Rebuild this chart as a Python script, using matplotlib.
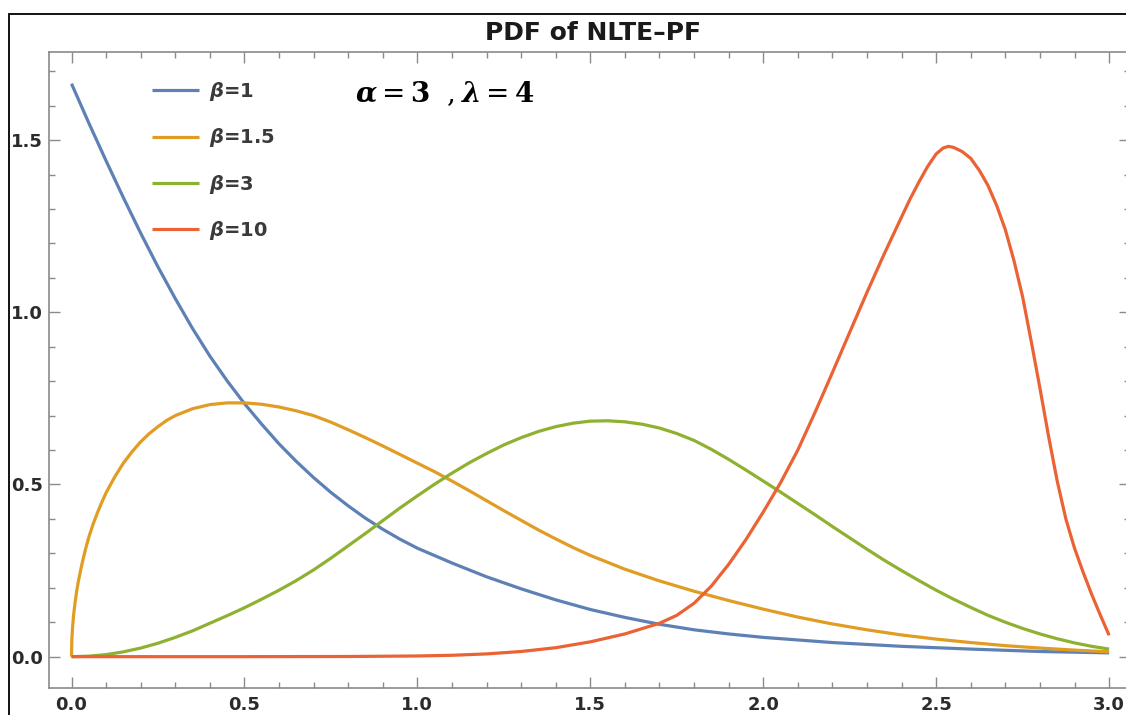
import matplotlib
matplotlib.use("Agg")
import matplotlib.pyplot as plt
from matplotlib.patches import Rectangle
from matplotlib.ticker import MultipleLocator, FormatStrFormatter

# ---- data: PDF of NLTE-PF, alpha = 3, lambda = 4 ----
x_b1 = [0, 0.05, 0.1, 0.15, 0.2, 0.25, 0.3, 0.35, 0.4, 0.45, 0.5, 0.55, 0.6,
        0.65, 0.7, 0.75, 0.8, 0.85, 0.9, 0.95, 1.0, 1.1, 1.2, 1.3, 1.4, 1.5,
        1.6, 1.7, 1.8, 1.9, 2.0, 2.2, 2.4, 2.6, 2.8, 3.0]
y_b1 = [1.664, 1.55, 1.44, 1.333, 1.23, 1.132, 1.04, 0.953, 0.873, 0.801,
        0.735, 0.675, 0.618, 0.567, 0.52, 0.477, 0.438, 0.402, 0.37, 0.341,
        0.315, 0.272, 0.232, 0.197, 0.165, 0.137, 0.114, 0.094, 0.078, 0.066,
        0.056, 0.041, 0.03, 0.022, 0.015, 0.011]

x_b15 = [0, 0.001, 0.003, 0.006, 0.01, 0.015, 0.02, 0.03, 0.04, 0.05, 0.0625,
         0.075, 0.0875, 0.1, 0.125, 0.15, 0.175, 0.2, 0.225, 0.25, 0.275, 0.3,
         0.35, 0.4, 0.45, 0.5, 0.55, 0.6, 0.65, 0.7, 0.75, 0.8, 0.85, 0.9,
         0.95, 1.0, 1.05, 1.1, 1.15, 1.2, 1.25, 1.3, 1.35, 1.4, 1.45, 1.5,
         1.6, 1.7, 1.8, 1.9, 2.0, 2.1, 2.2, 2.3, 2.4, 2.5, 2.6, 2.7, 2.8,
         2.9, 3.0]
y_b15 = [0, 0.05, 0.085, 0.12, 0.155, 0.19, 0.22, 0.268, 0.31, 0.347, 0.385,
         0.418, 0.448, 0.476, 0.522, 0.562, 0.595, 0.624, 0.648, 0.668, 0.686,
         0.70, 0.72, 0.732, 0.737, 0.737, 0.733, 0.725, 0.714, 0.70, 0.681,
         0.659, 0.636, 0.612, 0.587, 0.562, 0.537, 0.51, 0.482, 0.453, 0.424,
         0.396, 0.368, 0.342, 0.317, 0.294, 0.254, 0.22, 0.19, 0.163, 0.138,
         0.115, 0.095, 0.078, 0.063, 0.051, 0.041, 0.032, 0.025, 0.019, 0.014]

x_b3 = [0, 0.05, 0.1, 0.15, 0.2, 0.25, 0.3, 0.35, 0.4, 0.45, 0.5, 0.55, 0.6,
        0.65, 0.7, 0.75, 0.8, 0.85, 0.9, 0.95, 1.0, 1.05, 1.1, 1.15, 1.2,
        1.25, 1.3, 1.35, 1.4, 1.45, 1.5, 1.55, 1.6, 1.65, 1.7, 1.75, 1.8,
        1.85, 1.9, 1.95, 2.0, 2.05, 2.1, 2.15, 2.2, 2.25, 2.3, 2.35, 2.4,
        2.45, 2.5, 2.55, 2.6, 2.65, 2.7, 2.75, 2.8, 2.85, 2.9, 2.95, 3.0]
y_b3 = [0, 0.0015, 0.006, 0.014, 0.025, 0.039, 0.056, 0.075, 0.097, 0.119,
        0.142, 0.167, 0.193, 0.221, 0.252, 0.286, 0.322, 0.358, 0.395, 0.432,
        0.467, 0.501, 0.533, 0.563, 0.59, 0.615, 0.636, 0.654, 0.668, 0.678,
        0.684, 0.685, 0.682, 0.675, 0.664, 0.648, 0.628, 0.602, 0.573, 0.542,
        0.51, 0.478, 0.445, 0.412, 0.378, 0.345, 0.312, 0.28, 0.25, 0.221,
        0.193, 0.167, 0.143, 0.12, 0.1, 0.082, 0.066, 0.052, 0.04, 0.03, 0.022]

x_b10 = [0, 0.5, 0.8, 1.0, 1.1, 1.2, 1.3, 1.4, 1.5, 1.6, 1.7, 1.75, 1.8, 1.85,
         1.9, 1.95, 2.0, 2.05, 2.1, 2.15, 2.2, 2.25, 2.3, 2.35, 2.4, 2.425,
         2.45, 2.475, 2.5, 2.52, 2.535, 2.55, 2.575, 2.6, 2.625, 2.65, 2.675,
         2.7, 2.725, 2.75, 2.775, 2.8, 2.825, 2.85, 2.875, 2.9, 2.925, 2.95,
         2.975, 3.0]
y_b10 = [0, 0, 0.0005, 0.002, 0.004, 0.008, 0.015, 0.026, 0.043, 0.066, 0.097,
         0.12, 0.155, 0.205, 0.268, 0.34, 0.42, 0.505, 0.6, 0.71, 0.825, 0.942,
         1.058, 1.17, 1.277, 1.33, 1.378, 1.423, 1.46, 1.477, 1.482, 1.479,
         1.467, 1.447, 1.412, 1.368, 1.31, 1.24, 1.15, 1.045, 0.915, 0.78,
         0.64, 0.51, 0.40, 0.315, 0.245, 0.18, 0.12, 0.062]

series = [
    (x_b1, y_b1, r"$\mathbfit{\beta}$=1", "#5E81B5"),
    (x_b15, y_b15, r"$\mathbfit{\beta}$=1.5", "#E19C24"),
    (x_b3, y_b3, r"$\mathbfit{\beta}$=3", "#8FB131"),
    (x_b10, y_b10, r"$\mathbfit{\beta}$=10", "#EB6235"),
]

W, H = 1126, 715
fig = plt.figure(figsize=(W / 100, H / 100), dpi=100)
fig.patch.set_facecolor("white")

# plot frame (right edge runs just past the canvas)
left, right, top, bottom = 48.5, 1129.5, 52, 688
ax = fig.add_axes([left / W, (H - bottom) / H, (right - left) / W, (bottom - top) / H])

for xs, ys, lab, col in series:
    ax.plot(xs, ys, color=col, lw=2.3, label=lab, solid_capstyle="butt",
            solid_joinstyle="round")

ax.set_xlim(-0.0665, 3.059)
ax.set_ylim(-0.091, 1.756)

ax.xaxis.set_major_locator(MultipleLocator(0.5))
ax.xaxis.set_minor_locator(MultipleLocator(0.1))
ax.yaxis.set_major_locator(MultipleLocator(0.5))
ax.yaxis.set_minor_locator(MultipleLocator(0.1))
ax.xaxis.set_major_formatter(FormatStrFormatter("%.1f"))
ax.yaxis.set_major_formatter(FormatStrFormatter("%.1f"))

tick_grey = "#8a8a8a"
for s in ax.spines.values():
    s.set_color(tick_grey)
    s.set_linewidth(1.2)

ax.tick_params(which="both", direction="in", top=True, right=True,
               color=tick_grey, width=1.0, labelcolor="#2b2b2b")
ax.tick_params(which="major", length=8)
ax.tick_params(which="minor", length=4.6)
ax.tick_params(axis="x", which="major", pad=6)
ax.tick_params(axis="y", which="major", pad=4)
for lbl in ax.get_xticklabels() + ax.get_yticklabels():
    lbl.set_fontfamily("DejaVu Sans")
    lbl.set_fontweight("bold")
    lbl.set_fontsize(13)

leg = ax.legend(loc="upper left",
                bbox_to_anchor=((152 - left) / (right - left), 1 - (80 - top) / (bottom - top)),
                frameon=False, borderpad=0, borderaxespad=0,
                handlelength=2.4, handletextpad=0.55, labelspacing=1.2,
                prop={"family": "DejaVu Sans", "weight": "bold", "size": 14})
for t in leg.get_texts():
    t.set_color("#3a3a3a")

ax.text(0.82, 1.634, r"$\mathbfit{\alpha} = \mathbf{3}\ \ ,\mathbfit{\lambda} = \mathbf{4}$",
        math_fontfamily="dejavuserif", fontsize=20, ha="left", va="center",
        color="black")

fig.text(593 / W, 1 - 40 / H, "PDF of NLTE–PF", ha="center", va="baseline",
         fontsize=18, fontweight="bold", family="DejaVu Sans", color="#1a1a1a")

# outer border around the whole graphic
fig.patches.append(Rectangle((9 / W, -0.1), 1.2, (1 - 14 / H) + 0.1,
                             transform=fig.transFigure, fill=False,
                             ec="black", lw=1.3))

fig.savefig("out.png", dpi=100)
